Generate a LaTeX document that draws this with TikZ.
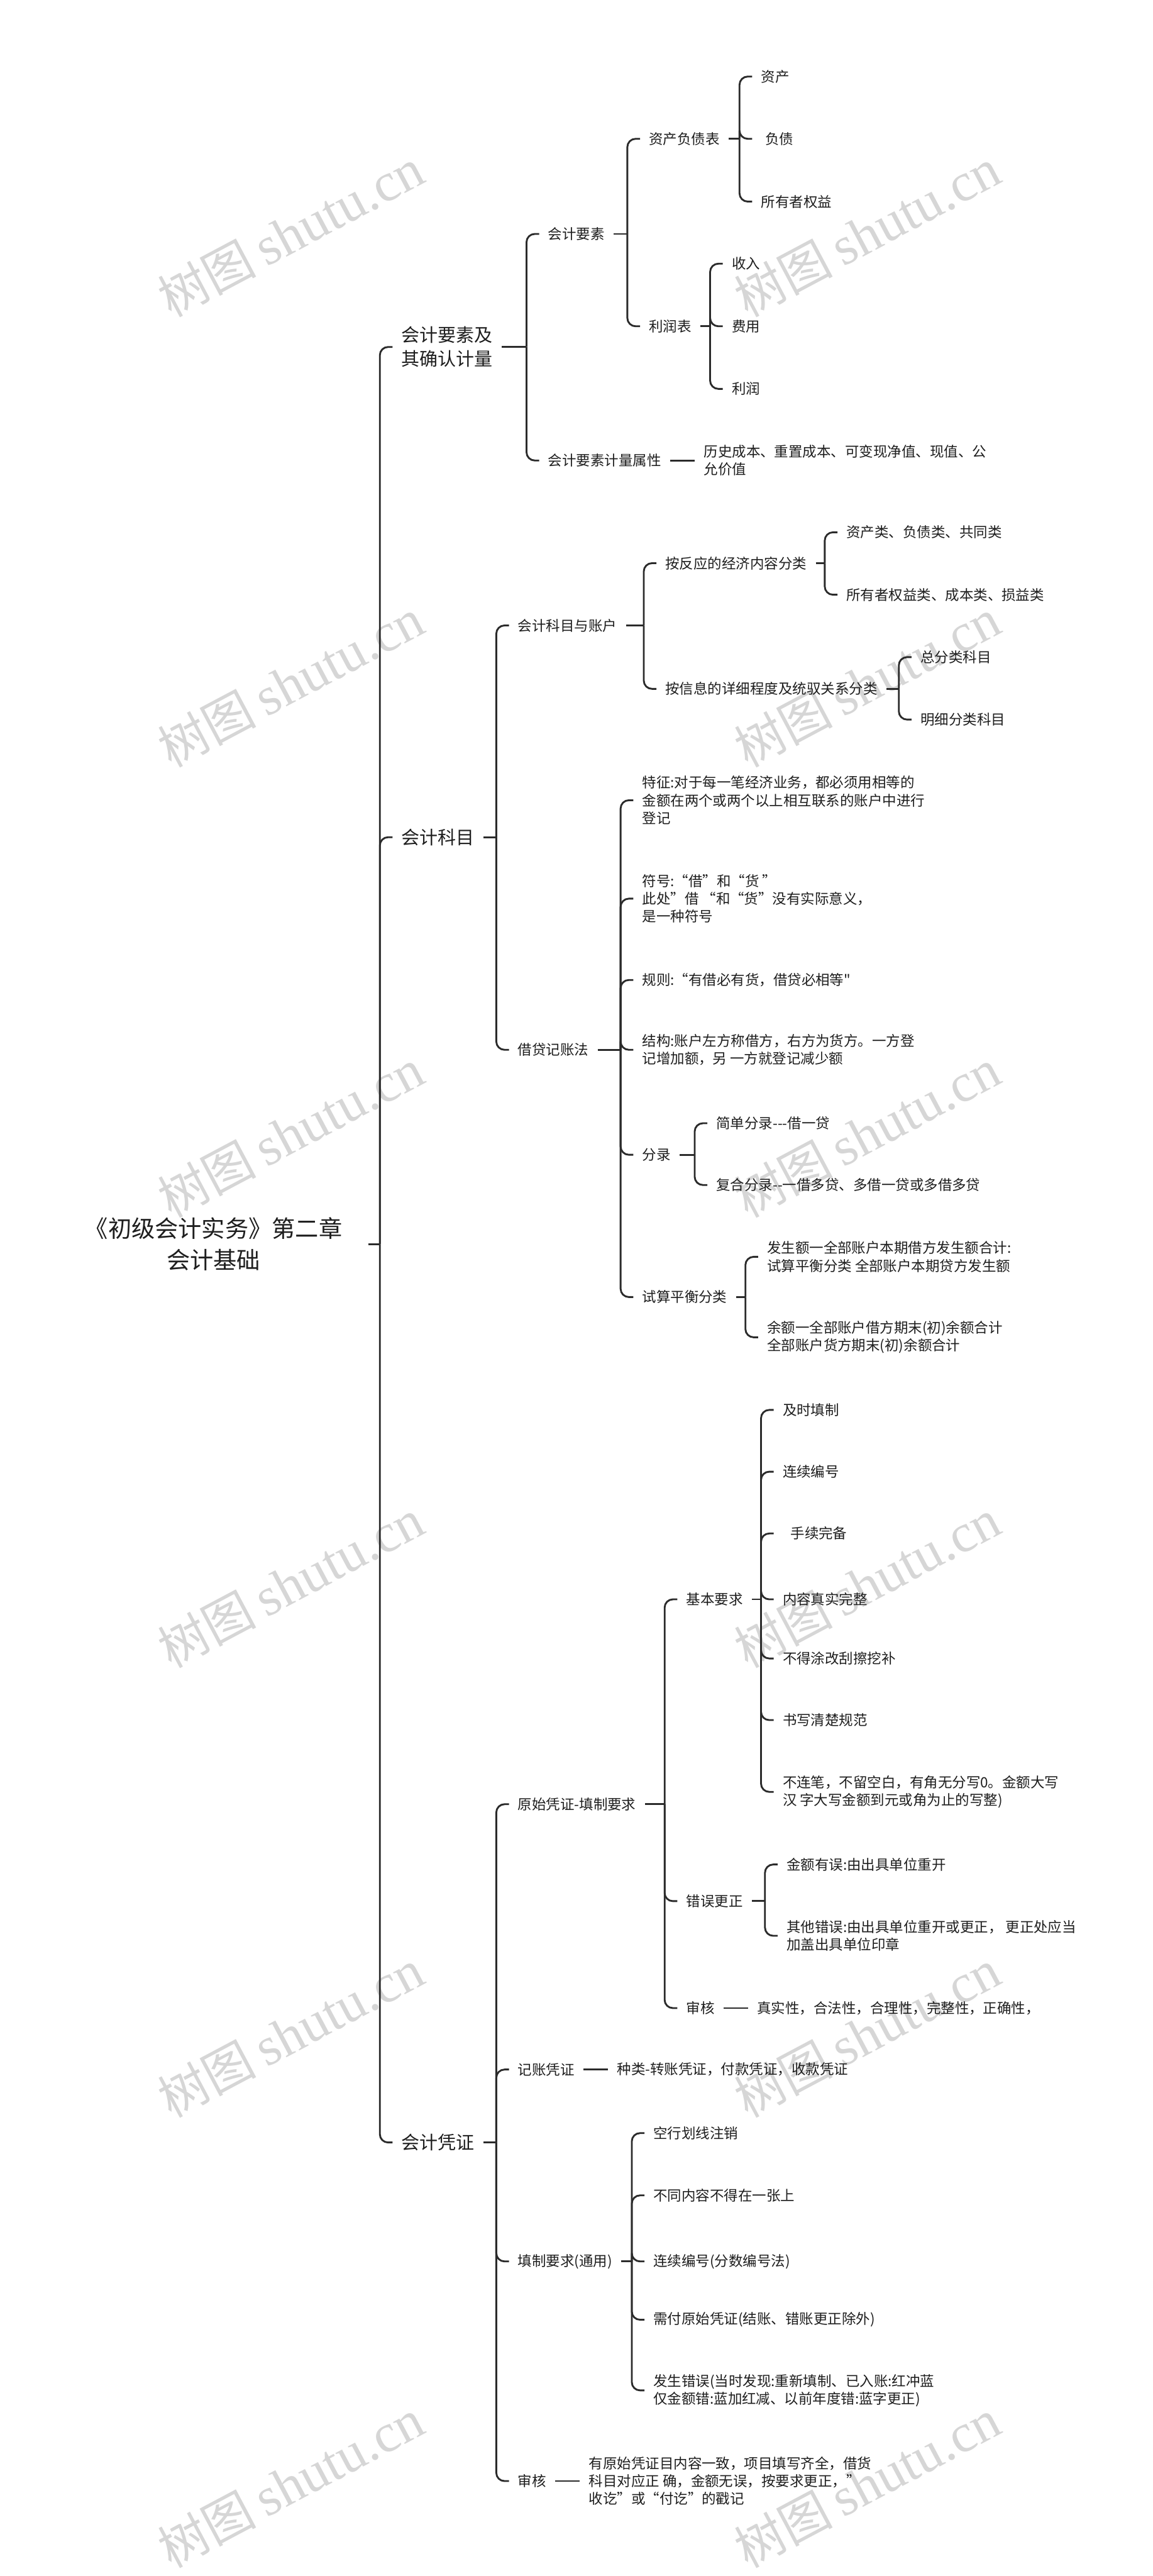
\documentclass[tikz,border=0pt]{standalone}
\usepackage{fontspec}
\newfontfamily\cjk{Noto Sans CJK SC}
\newfontfamily\wmserif{Liberation Serif}
\definecolor{ln}{HTML}{2B2B2B}
\definecolor{txt}{HTML}{1E1E1E}
\definecolor{wmc}{HTML}{D6D6D6}
\tikzset{
 conn/.style={draw=ln, line width=1.1pt, rounded corners=5pt},
 body/.style={anchor=west, text=txt, font=\cjk\fontsize{8.6}{10.8}\selectfont, inner xsep=5.3pt, inner ysep=1pt, align=left},
 lvone/.style={anchor=west, text=txt, font=\cjk\fontsize{11.1}{14.6}\selectfont, inner xsep=5.3pt, inner ysep=1pt, align=left},
 rootn/.style={text=txt, font=\cjk\fontsize{14.25}{19.2}\selectfont, inner xsep=15.6pt, align=center},
 wm/.style={text=wmc, rotate=28, inner sep=0pt},
}
\newcommand{\wmtext}{{\cjk\fontsize{30}{30}\selectfont 树图}\hspace{6pt}{\wmserif\fontsize{33}{33}\selectfont shutu.cn}}
\begin{document}
\begin{tikzpicture}[x=1pt,y=-1pt]
\fill[white] (0,0) rectangle (702,1568);
\useasboundingbox (0,0) rectangle (702,1568);
% watermarks
\foreach \r [count=\i] in {142,416,690,964,1238,1512}{
  \node[wm] (wl\i) at (177,\r) {\wmtext};
  \node[wm] (wr\i) at (528,\r) {\wmtext};
}
% root
\node[rootn] (root) at (130,757.3) {《初级会计实务》第二章\\会计基础};
\coordinate (jR) at (231.3,757.3);
\node[lvone] (La) at (239,211.2) {会计要素及\\其确认计量};
\node[lvone] (Lb) at (239,509.6) {会计科目};
\node[lvone] (Lc) at (239,1304.1) {会计凭证};
\draw[conn] (root.east) -- (jR);
\draw[conn] (jR) |- (La.west);
\draw[conn] (jR) |- (Lb.west);
\draw[conn] (jR) |- (Lc.west);
% ---------- A
\coordinate (jA) at (320.6,211.2);
\node[body] (a1) at (328.3,142.4) {会计要素};
\node[body] (a2) at (328.3,280.3) {会计要素计量属性};
\node[body] (a2t) at ([xshift=15pt]a2.east) {历史成本、重置成本、可变现净值、现值、公\\允价值};
\draw[conn] (La.east) -- (jA);
\draw[conn] (jA) |- (a1.west);
\draw[conn] (jA) |- (a2.west);
\draw[conn] (a2.east) -- (a2t.west);
\coordinate (jA1) at (382,142.4);
\node[body] (a11) at (389.7,84.5) {资产负债表};
\node[body] (a12) at (389.7,198.6) {利润表};
\draw[conn] (a1.east) -- (jA1);
\draw[conn] (jA1) |- (a11.west);
\draw[conn] (jA1) |- (a12.west);
\coordinate (jA11) at (450.3,84.5);
\node[body] (a111) at (458,46.6) {资产};
\node[body] (a112) at (458,84.5) {\hspace{2.4pt}负债};
\node[body] (a113) at (458,122.7) {所有者权益};
\draw[conn] (a11.east) -- (jA11);
\draw[conn] (jA11) |- (a111.west);
\draw[conn] (jA11) |- (a112.west);
\draw[conn] (jA11) |- (a113.west);
\coordinate (jA12) at (432.4,198.6);
\node[body] (a121) at (440.1,160.5) {收入};
\node[body] (a122) at (440.1,198.6) {费用};
\node[body] (a123) at (440.1,236.7) {利润};
\draw[conn] (a12.east) -- (jA12);
\draw[conn] (jA12) |- (a121.west);
\draw[conn] (jA12) |- (a122.west);
\draw[conn] (jA12) |- (a123.west);
% ---------- B
\coordinate (jB) at (302.2,509.6);
\node[body] (b1) at (309.9,380.7) {会计科目与账户};
\node[body] (b2) at (309.9,639) {借贷记账法};
\draw[conn] (Lb.east) -- (jB);
\draw[conn] (jB) |- (b1.west);
\draw[conn] (jB) |- (b2.west);
\coordinate (jB1) at (392,380.7);
\node[body] (b11) at (399.7,342.8) {按反应的经济内容分类};
\node[body] (b12) at (399.7,419.3) {按信息的详细程度及统驭关系分类};
\draw[conn] (b1.east) -- (jB1);
\draw[conn] (jB1) |- (b11.west);
\draw[conn] (jB1) |- (b12.west);
\coordinate (jB11) at (502.2,342.8);
\node[body] (b111) at (509.9,324) {资产类、负债类、共同类};
\node[body] (b112) at (509.9,362) {所有者权益类、成本类、损益类};
\draw[conn] (b11.east) -- (jB11);
\draw[conn] (jB11) |- (b111.west);
\draw[conn] (jB11) |- (b112.west);
\coordinate (jB12) at (547.3,419.3);
\node[body] (b121) at (555,400) {总分类科目};
\node[body] (b122) at (555,438) {明细分类科目};
\draw[conn] (b12.east) -- (jB12);
\draw[conn] (jB12) |- (b121.west);
\draw[conn] (jB12) |- (b122.west);
\coordinate (jB2) at (377.9,639);
\node[body] (b21) at (385.6,487.1) {特征:对于每一笔经济业务，都必须用相等的\\金额在两个或两个以上相互联系的账户中进行\\登记};
\node[body] (b22) at (385.6,547) {符号:“借”和“货 ”\\此处”借 “和“货”没有实际意义，\\是一种符号};
\node[body] (b23) at (385.6,596.5) {规则:“有借必有货，借贷必相等"};
\node[body] (b24) at (385.6,639) {结构:账户左方称借方，右方为货方。一方登\\记增加额，另 一方就登记减少额};
\node[body] (b25) at (385.6,702.9) {分录};
\node[body] (b26) at (385.6,789.5) {试算平衡分类};
\draw[conn] (b2.east) -- (jB2);
\foreach \n in {b21,b22,b23,b24,b25,b26}{\draw[conn] (jB2) |- (\n.west);}
\coordinate (jB25) at (423,702.9);
\node[body] (b251) at (430.7,683.7) {简单分录---借一贷};
\node[body] (b252) at (430.7,721.3) {复合分录--一借多贷、多借一贷或多借多贷};
\draw[conn] (b25.east) -- (jB25);
\draw[conn] (jB25) |- (b251.west);
\draw[conn] (jB25) |- (b252.west);
\coordinate (jB26) at (453.9,789.5);
\node[body] (b261) at (461.6,765) {发生额一全部账户本期借方发生额合计:\\试算平衡分类 全部账户本期贷方发生额};
\node[body] (b262) at (461.6,814) {余额一全部账户借方期末(初)余额合计\\全部账户货方期末(初)余额合计};
\draw[conn] (b26.east) -- (jB26);
\draw[conn] (jB26) |- (b261.west);
\draw[conn] (jB26) |- (b262.west);
% ---------- C
\coordinate (jC) at (302.2,1304.1);
\node[body] (c1) at (309.9,1098.2) {原始凭证-填制要求};
\node[body] (c2) at (309.9,1259.7) {记账凭证};
\node[body] (c3) at (309.9,1376.5) {填制要求(通用)};
\node[body] (c4) at (309.9,1510.2) {审核};
\draw[conn] (Lc.east) -- (jC);
\foreach \n in {c1,c2,c3,c4}{\draw[conn] (jC) |- (\n.west);}
\coordinate (jC1) at (404.7,1098.2);
\node[body] (c11) at (412.4,973.5) {基本要求};
\node[body] (c12) at (412.4,1157.2) {错误更正};
\node[body] (c13) at (412.4,1222.3) {审核};
\draw[conn] (c1.east) -- (jC1);
\foreach \n in {c11,c12,c13}{\draw[conn] (jC1) |- (\n.west);}
\coordinate (jC11) at (463.4,973.5);
\node[body] (c111) at (471.1,858.2) {及时填制};
\node[body] (c112) at (471.1,895.8) {连续编号};
\node[body] (c113) at (471.1,933.4) {\hspace{4.8pt}手续完备};
\node[body] (c114) at (471.1,973.5) {内容真实完整};
\node[body] (c115) at (471.1,1009.5) {不得涂改刮擦挖补};
\node[body] (c116) at (471.1,1047) {书写清楚规范};
\node[body] (c117) at (471.1,1090.7) {不连笔，不留空白，有角无分写0。金额大写\\汉 字大写金额到元或角为止的写整)};
\draw[conn] (c11.east) -- (jC11);
\foreach \n in {c111,c112,c113,c114,c115,c116,c117}{\draw[conn] (jC11) |- (\n.west);}
\coordinate (jC12) at (465.8,1157.2);
\node[body] (c121) at (473.5,1134.9) {金额有误:由出具单位重开};
\node[body] (c122) at (473.5,1178.3) {其他错误:由出具单位重开或更正， 更正处应当\\加盖出具单位印章};
\draw[conn] (c12.east) -- (jC12);
\draw[conn] (jC12) |- (c121.west);
\draw[conn] (jC12) |- (c122.west);
\node[body] (c131) at ([xshift=15pt]c13.east) {真实性，合法性，合理性，完整性，正确性，};
\draw[conn] (c13.east) -- (c131.west);
\node[body] (c21) at ([xshift=15pt]c2.east) {种类-转账凭证，付款凭证，收款凭证};
\draw[conn] (c2.east) -- (c21.west);
\coordinate (jC3) at (384.7,1376.5);
\node[body] (c31) at (392.4,1298.4) {空行划线注销};
\node[body] (c32) at (392.4,1336.3) {不同内容不得在一张上};
\node[body] (c33) at (392.4,1376.5) {连续编号(分数编号法)};
\node[body] (c34) at (392.4,1412) {需付原始凭证(结账、错账更正除外)};
\node[body] (c35) at (392.4,1455) {发生错误(当时发现:重新填制、已入账:红冲蓝\\仅金额错:蓝加红减、以前年度错:蓝字更正)};
\draw[conn] (c3.east) -- (jC3);
\foreach \n in {c31,c32,c33,c34,c35}{\draw[conn] (jC3) |- (\n.west);}
\node[body] (c41) at ([xshift=15pt]c4.east) {有原始凭证目内容一致，项目填写齐全，借货\\科目对应正 确，金额无误，按要求更正，”\\收讫”或“付讫”的戳记};
\draw[conn] (c4.east) -- (c41.west);
\end{tikzpicture}
\end{document}
